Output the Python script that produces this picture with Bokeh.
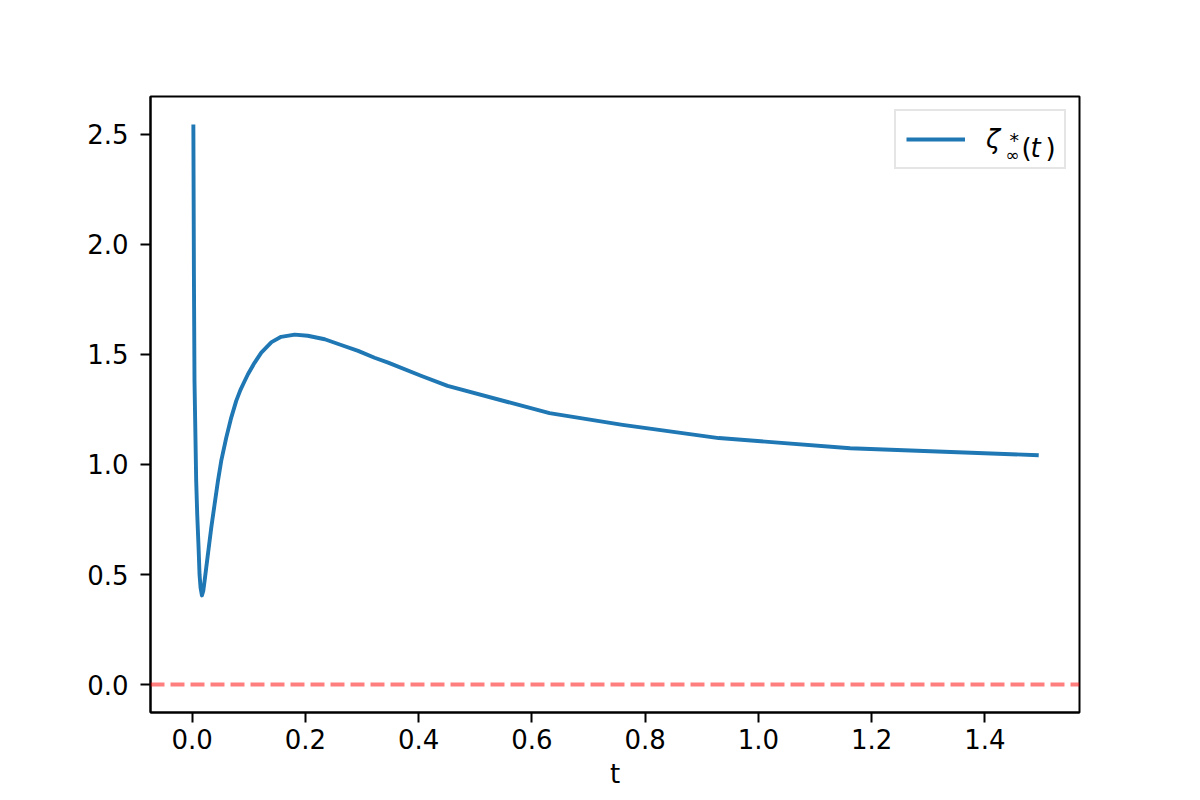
from bokeh.plotting import figure
from bokeh.models import Range1d, FixedTicker, NumeralTickFormatter, Span, Label
from bokeh.embed import file_html
from bokeh.resources import INLINE

# --- data ---
t_vals = [0.002, 0.0025, 0.003, 0.004, 0.007, 0.0088, 0.0112, 0.0129, 0.0147, 0.0171,
          0.0195, 0.0218, 0.0277, 0.0336, 0.0395, 0.0454, 0.0512, 0.0601, 0.0689, 0.0777,
          0.0850, 0.0924, 0.0984, 0.110, 0.122, 0.140, 0.157, 0.181, 0.204, 0.234,
          0.263, 0.293, 0.322, 0.346, 0.405, 0.451, 0.631, 0.760, 0.930, 1.162, 1.495]
zeta_vals = [2.545, 2.20, 1.85, 1.38, 0.925, 0.774, 0.622, 0.50, 0.44, 0.405,
             0.425, 0.470, 0.592, 0.713, 0.819, 0.925, 1.016, 1.122, 1.213, 1.289,
             1.338, 1.378, 1.410, 1.462, 1.508, 1.556, 1.580, 1.590, 1.585, 1.569,
             1.543, 1.516, 1.485, 1.463, 1.402, 1.357, 1.233, 1.18, 1.12, 1.074, 1.042]
x_ticks = [0.0, 0.2, 0.4, 0.6, 0.8, 1.0, 1.2, 1.4]
y_ticks = [0.0, 0.5, 1.0, 1.5, 2.0, 2.5]
hline_y = 0.0
x_label = "t"
legend_main = "ζ"

FONT = "DejaVu Sans"
BLUE = "#1f77b4"

p = figure(width=1184, height=784, output_backend="svg", toolbar_location=None,
           x_range=Range1d(-0.0737, 1.567), y_range=Range1d(-0.127, 2.672),
           frame_width=929, frame_height=616,
           min_border_left=150, min_border_right=105, min_border_top=96, min_border_bottom=72)

p.background_fill_color = "white"
p.border_fill_color = "white"
p.outline_line_color = "black"
p.outline_line_width = 2
p.xgrid.visible = False
p.ygrid.visible = False

for ax in (p.xaxis[0], p.yaxis[0]):
    ax.axis_line_color = "black"
    ax.axis_line_width = 2
    ax.major_tick_line_color = "black"
    ax.major_tick_line_width = 2
    ax.major_tick_out = 10
    ax.major_tick_in = 0
    ax.minor_tick_line_color = None
    ax.major_label_text_font = FONT
    ax.major_label_text_font_size = "26px"
    ax.major_label_text_color = "black"
    ax.formatter = NumeralTickFormatter(format="0.0")

p.xaxis[0].ticker = FixedTicker(ticks=x_ticks)
p.yaxis[0].ticker = FixedTicker(ticks=y_ticks)
p.xaxis[0].major_label_standoff = 6
p.yaxis[0].major_label_standoff = 12
p.xaxis[0].axis_label = x_label
p.xaxis[0].axis_label_text_font = FONT
p.xaxis[0].axis_label_text_font_size = "26px"
p.xaxis[0].axis_label_text_font_style = "normal"
p.xaxis[0].axis_label_text_color = "black"
p.xaxis[0].axis_label_standoff = 7

p.add_layout(Span(location=hline_y, dimension="width", line_color="red", line_alpha=0.5,
                  line_dash="14 6", line_width=3.9))

p.line(t_vals, zeta_vals, line_color=BLUE, line_width=3.9, line_join="round",
       legend_label=legend_main)

lg = p.legend[0]
lg.location = "top_right"
lg.margin = 13
lg.padding = 10
lg.glyph_width = 59
lg.glyph_height = 36
lg.label_height = 36
lg.label_width = 68
lg.label_standoff = 21
lg.label_text_font = FONT
lg.label_text_font_size = "26px"
lg.label_text_font_style = "italic"
lg.label_text_color = "black"
lg.border_line_color = "#cccccc"
lg.border_line_width = 2
lg.background_fill_color = None

# math-text pieces of the legend label, frame-relative screen units
def lab(txt, x, y, size, style="normal"):
    p.add_layout(Label(x=x, y=y, x_units="screen", y_units="screen", text=txt,
                       text_font=FONT, text_font_size=size, text_font_style=style,
                       text_color="black", text_baseline="alphabetic", text_align="left",
                       level="overlay"))

lab("*", 859, 573, "19px")
lab("∞", 855, 558, "17px")
lab("(", 871, 565, "26px")
lab("t", 880, 565, "26px", "italic")
lab(")", 895, 565, "26px")

open("out.html", "w").write(file_html(p, INLINE))
